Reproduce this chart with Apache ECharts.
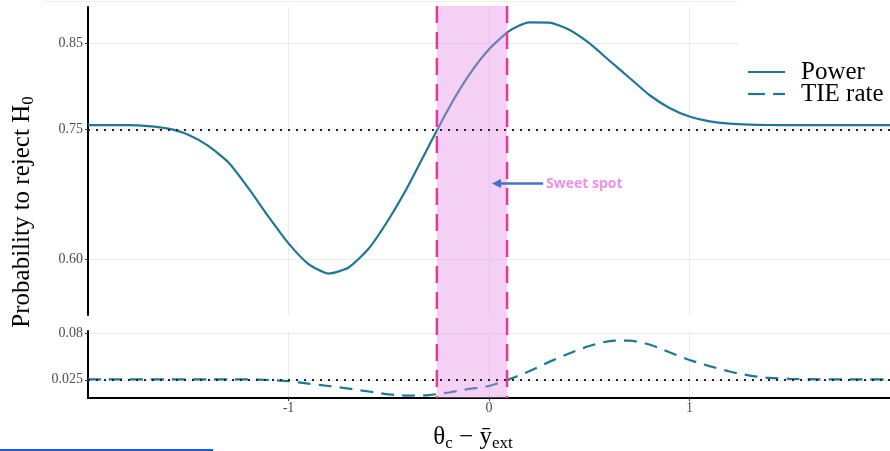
<!DOCTYPE html>
<html>
<head>
<meta charset="utf-8">
<script src="https://cdn.jsdelivr.net/npm/echarts@6/dist/echarts.min.js"></script>
<style>
  html, body { margin: 0; padding: 0; background: #fff; }
  #chart { width: 890px; height: 451px; }
</style>
</head>
<body>
<div id="chart"></div>
<script>
// theta_c - mean(y_ext)
const thetaDiff = [
  -2.0, -1.9, -1.8, -1.7, -1.6, -1.5, -1.4, -1.3, -1.2, -1.1,
  -1.0, -0.9, -0.8, -0.7, -0.6, -0.5, -0.4, -0.3, -0.2, -0.1,
   0.0,  0.1,  0.2,  0.3,  0.4,  0.5,  0.6,  0.7,  0.8,  0.9,
   1.0,  1.1,  1.2,  1.3,  1.4,  1.5,  1.6,  1.7,  1.8,  1.9, 2.0
];
// probability to reject H0 when the treatment works
const power = [
  0.755, 0.755, 0.755, 0.754, 0.751, 0.744, 0.731, 0.712, 0.682, 0.649,
  0.618, 0.594, 0.583, 0.590, 0.612, 0.646, 0.686, 0.731, 0.775, 0.813,
  0.843, 0.864, 0.8742, 0.8740, 0.8656, 0.850, 0.830, 0.810, 0.790, 0.775,
  0.765, 0.7595, 0.7568, 0.7556, 0.7552, 0.755, 0.755, 0.755, 0.755, 0.755, 0.755
];
// type I error rate
const tieRate = [
  0.0255, 0.0255, 0.0255, 0.0255, 0.0255, 0.0255, 0.0255, 0.0255, 0.0254, 0.0248,
  0.0234, 0.0205, 0.0177, 0.0145, 0.0112, 0.0078, 0.0064, 0.0070, 0.0100, 0.0142,
  0.0177, 0.0255, 0.0352, 0.0462, 0.0562, 0.0650, 0.0708, 0.0714, 0.0668, 0.0575,
  0.0485, 0.0412, 0.0348, 0.0300, 0.0272, 0.0262, 0.0258, 0.0255, 0.0255, 0.0255, 0.0255
];
const powerTicks = [0.60, 0.75, 0.85];
const tieTicks = [0.025, 0.08];
const xTicks = [-1, 0, 1];
const powerTarget = 0.75;
const tieTarget = 0.025;
const sweetSpot = [-0.26, 0.09];

// layout
const SERIF = '"Liberation Serif", "Times New Roman", serif';
const LINE_COLOR = '#1c7896';
const GRID_COLOR = '#ebebeb';
const PLOT_LEFT = 88, PLOT_WIDTH = 804;
const TOP_Y = 7, TOP_H = 308;
const BOT_Y = 331, BOT_H = 67;
const BAND_TOP = 6, BAND_BOTTOM = BOT_Y + BOT_H;

const chart = echarts.init(document.getElementById('chart'), null, { renderer: 'canvas' });

function xAxisFor(gridIndex, visible) {
  return {
    gridIndex, type: 'value', min: -2, max: 2, interval: 1,
    axisLine: { show: visible, onZero: false, lineStyle: { color: '#000', width: 2 } },
    axisTick: { show: visible, customValues: xTicks, length: 3, lineStyle: { color: '#333' } },
    axisLabel: { show: visible, customValues: xTicks, fontFamily: SERIF, fontSize: 14, color: '#4d4d4d', margin: 3 },
    splitLine: { show: true, lineStyle: { color: GRID_COLOR, width: 1 } }
  };
}
function yAxisFor(gridIndex, min, max, ticks, fmt) {
  return {
    gridIndex, type: 'value', min, max,
    axisLine: { show: true, onZero: false, lineStyle: { color: '#000', width: 2 } },
    axisTick: { show: true, customValues: ticks, length: 3, lineStyle: { color: '#333' } },
    axisLabel: { customValues: ticks, formatter: fmt, fontFamily: SERIF, fontSize: 14, color: '#4d4d4d', margin: 5 },
    splitLine: { show: true, lineStyle: { color: GRID_COLOR, width: 1 } }
  };
}
function refLine(value) {
  return {
    silent: true, symbol: ['none', 'none'], animation: false, precision: 4,
    label: { show: false },
    lineStyle: { type: [2, 6], color: '#222', width: 2 },
    data: [{ yAxis: value }]
  };
}

const option = {
  animation: false,
  grid: [
    { left: PLOT_LEFT, top: TOP_Y, width: PLOT_WIDTH, height: TOP_H },
    { left: PLOT_LEFT, top: BOT_Y, width: PLOT_WIDTH, height: BOT_H }
  ],
  xAxis: [xAxisFor(0, false), xAxisFor(1, true)],
  yAxis: [
    yAxisFor(0, 0.535, 0.892, powerTicks, v => v.toFixed(2)),
    yAxisFor(1, 0.0035, 0.0827, tieTicks, v => String(v))
  ],
  series: [
    {
      name: 'Power', type: 'line', xAxisIndex: 0, yAxisIndex: 0,
      data: thetaDiff.map((x, i) => [x, power[i]]),
      symbol: 'none', z: 2, smooth: 0.2,
      lineStyle: { color: LINE_COLOR, width: 2.2 },
      markLine: refLine(powerTarget)
    },
    {
      name: 'TIE rate', type: 'line', xAxisIndex: 1, yAxisIndex: 1,
      data: thetaDiff.map((x, i) => [x, tieRate[i]]),
      symbol: 'none', z: 2, smooth: 0.2,
      lineStyle: { color: LINE_COLOR, width: 2.2, type: [13, 8] },
      markLine: refLine(tieTarget)
    },
    {
      // shaded sweet-spot band across both panels
      name: 'Sweet spot', type: 'custom', xAxisIndex: 1, yAxisIndex: 1,
      clip: false, silent: true, z: 3,
      encode: { x: [0, 1] },
      data: [[sweetSpot[0], sweetSpot[1]]],
      renderItem: (params, api) => {
        const x0 = api.coord([api.value(0), tieTarget])[0];
        const x1 = api.coord([api.value(1), tieTarget])[0];
        const edge = x => ({
          type: 'line',
          shape: { x1: x, y1: BAND_TOP, x2: x, y2: BAND_BOTTOM },
          style: { stroke: '#e8379e', lineWidth: 2.5, lineDash: [17, 9] }
        });
        return {
          type: 'group',
          children: [
            { type: 'rect', shape: { x: x0, y: BAND_TOP, width: x1 - x0, height: BAND_BOTTOM - BAND_TOP },
              style: { fill: 'rgba(230,137,230,0.4)' } },
            edge(x0), edge(x1)
          ]
        };
      }
    }
  ],
  graphic: [
    // legend backdrop hides the grid line behind the key
    { type: 'rect', z: 1, shape: { x: 739, y: 36, width: 151, height: 14 }, style: { fill: '#fff' } },
    { type: 'line', z: 1, shape: { x1: 43, y1: 1.5, x2: 737, y2: 1.5 }, style: { stroke: '#efefef', lineWidth: 1 } },
    // legend
    { type: 'line', z: 10, shape: { x1: 748, y1: 72, x2: 785, y2: 72 }, style: { stroke: LINE_COLOR, lineWidth: 2.2 } },
    { type: 'line', z: 10, shape: { x1: 748, y1: 94, x2: 765, y2: 94 }, style: { stroke: LINE_COLOR, lineWidth: 2.2 } },
    { type: 'line', z: 10, shape: { x1: 773, y1: 94, x2: 785, y2: 94 }, style: { stroke: LINE_COLOR, lineWidth: 2.2 } },
    { type: 'text', z: 10, x: 801, y: 72, style: { text: 'Power', fontFamily: SERIF, fontSize: 25, fill: '#000', align: 'left', verticalAlign: 'middle' } },
    { type: 'text', z: 10, x: 801, y: 94, style: { text: 'TIE rate', fontFamily: SERIF, fontSize: 25, fill: '#000', align: 'left', verticalAlign: 'middle' } },
    // axis titles
    {
      type: 'text', z: 10, x: 22, y: 212, rotation: Math.PI / 2,
      style: {
        text: '{m|Probability to reject H}{s|0}', fill: '#000', align: 'center', verticalAlign: 'middle',
        rich: {
          m: { fontFamily: SERIF, fontSize: 25, lineHeight: 32 },
          s: { fontFamily: SERIF, fontSize: 17, lineHeight: 17, padding: [14, 0, 0, 0] }
        }
      }
    },
    {
      type: 'text', z: 10, x: 473, y: 437,
      style: {
        text: '{m|θ}{s|c}{m| − ȳ}{s|ext}', fill: '#000', align: 'center', verticalAlign: 'middle',
        rich: {
          m: { fontFamily: SERIF, fontSize: 25, lineHeight: 32 },
          s: { fontFamily: SERIF, fontSize: 17, lineHeight: 17, padding: [14, 0, 0, 0] }
        }
      }
    },
    // sweet-spot callout
    { type: 'line', z: 10, shape: { x1: 543, y1: 183.5, x2: 498, y2: 183.5 }, style: { stroke: '#4472c4', lineWidth: 2.5 } },
    { type: 'polygon', z: 10, shape: { points: [[492, 183.5], [501, 179], [501, 188]] }, style: { fill: '#4472c4' } },
    { type: 'text', z: 10, x: 546, y: 184, style: { text: 'Sweet spot', fontFamily: '"Open Sans", sans-serif', fontWeight: 'bold', fontSize: 14, fill: '#ee8fee', align: 'left', verticalAlign: 'middle' } },
    // underline rule at the foot
    { type: 'line', z: 10, shape: { x1: 0, y1: 450, x2: 213, y2: 450 }, style: { stroke: '#1a5ed2', lineWidth: 2 } }
  ]
};

chart.setOption(option);
</script>
</body>
</html>
